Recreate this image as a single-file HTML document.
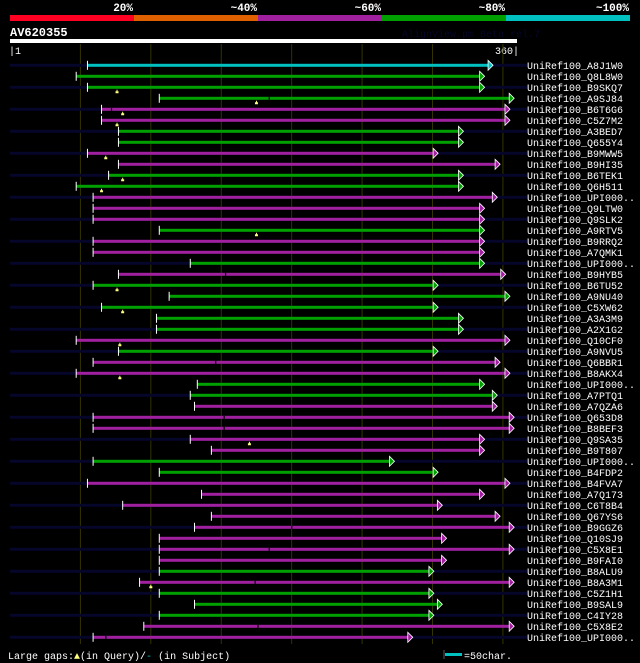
<!DOCTYPE html>
<html><head><meta charset="utf-8"><style>
html,body{margin:0;padding:0;background:#000;}
svg{display:block;}
text{font-family:"Liberation Mono","DejaVu Sans Mono",monospace;}
</style></head><body>
<svg id="chart" width="640" height="663" viewBox="0 0 640 663" xmlns="http://www.w3.org/2000/svg">
<g>
<rect x="10" y="15" width="124" height="6" fill="#ff0022"/>
<rect x="134" y="15" width="124" height="6" fill="#e06000"/>
<rect x="258" y="15" width="124" height="6" fill="#a020a0"/>
<rect x="382" y="15" width="124" height="6" fill="#00a000"/>
<rect x="506" y="15" width="124" height="6" fill="#00c0c0"/>
<g font-size="11" font-weight="bold" fill="#fff" text-anchor="end">
<text x="133" y="11">20%</text>
<text x="257" y="11">~40%</text>
<text x="381" y="11">~60%</text>
<text x="505" y="11">~80%</text>
<text x="629" y="11">~100%</text>
</g>
</g>
<text x="10" y="36" font-size="12" font-weight="bold" fill="#fff">AV620355</text>
<text x="402" y="37" font-size="10" fill="#06062a">AlignView.pm Beta rel.7</text>
<rect x="10" y="39" width="507" height="4" fill="#fff"/>
<text x="9" y="54" font-size="10" fill="#fff">|1</text>
<text x="519" y="54" font-size="10" fill="#fff" text-anchor="end">360|</text>
<g id="grid"></g>
<g id="rows"></g>
<g>
<text x="8" y="659" font-size="10" fill="#fff">Large gaps:<tspan fill="#ffff80">▲</tspan>(in Query)/<tspan fill="#00c0c0">-</tspan> (in Subject)</text>
<line x1="444" y1="650" x2="444" y2="659" stroke="#556" stroke-width="1"/>
<rect x="445" y="653" width="17" height="3" fill="#00c0c0"/>
<text x="464" y="659" font-size="10" fill="#fff">=50char.</text>
</g>
</svg>
<script>
const labels=["A8J1W0","Q8L8W0","B9SKQ7","A9SJ84","B6T6G6","C5Z7M2","A3BED7","Q655Y4","B9MWW5","B9HI35","B6TEK1","Q6H511","UPI000..","Q9LTW0","Q9SLK2","A9RTV5","B9RRQ2","A7QMK1","UPI000..","B9HYB5","B6TU52","A9NU40","C5XW62","A3A3M9","A2X1G2","Q10CF0","A9NVU5","Q6BBR1","B8AKX4","UPI000..","A7PTQ1","A7QZA6","Q653D8","B8BEF3","Q9SA35","B9T807","UPI000..","B4FDP2","B4FVA7","A7Q173","C6T8B4","Q67YS6","B9GGZ6","Q10SJ9","C5X8E1","B9FAI0","B8ALU9","B8A3M1","C5Z1H1","B9SAL9","C4IY28","C5X8E2","UPI000.."];
const starts=[55,47,55,106,65,65,77,77,55,77,70,47,59,59,59,106,59,59,128,77,59,113,65,104,104,47,77,59,47,133,128,131,59,59,128,143,59,106,55,136,80,143,131,106,106,106,106,92,106,131,106,95,59];
const ends=[343,337,337,358,355,355,322,322,304,348,322,322,346,337,337,337,337,337,337,352,304,355,304,322,322,355,304,348,355,337,346,346,358,358,337,337,273,304,355,337,307,348,358,310,358,310,301,358,301,307,301,358,286];
const colors=["c","g","g","g","p","p","g","g","p","p","g","g","p","p","p","g","p","p","g","p","g","g","g","g","g","p","g","p","p","g","g","p","p","p","p","p","g","g","p","p","p","p","p","p","p","p","g","p","g","g","g","p","p"];
const queryGaps=[[2,76],[3,175],[4,80],[5,76],[8,68],[10,80],[11,65],[15,175],[20,76],[22,80],[25,78],[28,78],[34,170],[47,100]];
const subjectGaps=[[3,184],[4,72],[19,153],[27,146],[32,152],[33,152],[42,200],[44,184],[47,174],[51,176],[52,68]];
const gridTicks=[50,100,150,200,250,300,350];

const NS="http://www.w3.org/2000/svg";
const X0=10,SC=507/360,Y0=65.3,DY=11;
const xs=p=>X0+p*SC, ys=i=>Y0+i*DY;
const col={c:"#00c0c0",g:"#00a000",p:"#a020a0"};
function mk(tag,attrs,parent){const e=document.createElementNS(NS,tag);for(const k in attrs)e.setAttribute(k,attrs[k]);parent.appendChild(e);return e;}
const grid=document.getElementById('grid'),rows=document.getElementById('rows');
gridTicks.forEach(t=>{
  const l=mk('line',{x1:xs(t),x2:xs(t),y1:44,y2:644,stroke:"#333300","stroke-width":1},grid);
  
  
});
labels.forEach((lab,i)=>{
  const y=ys(i);
  const g=mk('g',{},rows);
  
  
  if(i%2===0){
    const bg=mk('rect',{x:10,y:y-1.5,width:517,height:3,fill:"#06062a"},g);
    
    
  }
  const x1=xs(starts[i]),x2=xs(ends[i]);
  const bar=mk('rect',{x:x1,y:y-1.5,width:x2-x1-5,height:3,fill:col[colors[i]]},g);
  
  
  const tick=mk('line',{x1:x1,x2:x1,y1:y-4.5,y2:y+4.5,stroke:"#fff","stroke-width":1},g);
  
  
  const ar=mk('polygon',{points:`${x2-5},${y-5} ${x2},${y} ${x2-5},${y+5}`,fill:col[colors[i]],stroke:"#fff","stroke-width":0.8},g);
  
  
  const t=mk('text',{x:527,y:y+3.5,"font-size":10,fill:"#fff"},g);
  t.textContent="UniRef100_"+lab;
  
  
});
queryGaps.forEach(([r,p])=>{
  const x=xs(p),y=ys(r)+3;
  const m=mk('path',{d:`M${x-1.5},${y+3}h3v-2h-1v-1.5h-1v1.5h-1z`,fill:"#ffff80"},rows);
  
  
});
subjectGaps.forEach(([r,p])=>{
  const x=xs(p),y=ys(r);
  const m=mk('rect',{x:x-0.5,y:y-1.5,width:1.2,height:3,fill:"#000"},rows);
  
  
});
</script>
</body></html>
